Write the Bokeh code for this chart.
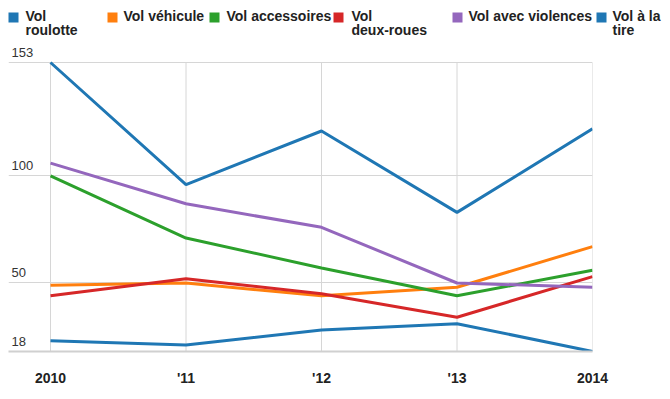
from bokeh.plotting import figure
from bokeh.models import Range1d, FixedTicker, Label
from bokeh.layouts import column
from bokeh.core.properties import value
from bokeh.embed import file_html
from bokeh.resources import INLINE

# ---- data ----
years = [2010, 2011, 2012, 2013, 2014]
year_labels = ["2010", "'11", "'12", "'13", "2014"]
y_ticks = [18, 50, 100, 153]

series_names = ["Vol\nroulotte", "Vol véhicule", "Vol accessoires",
                "Vol\ndeux-roues", "Vol avec violences", "Vol à la\ntire"]
series_colors = ["#1f77b4", "#ff7f0e", "#2ca02c", "#d62728", "#9467bd", "#1f77b4"]

vol_roulotte = [153, 96, 121, 83, 122]
vol_vehicule = [49, 50, 44, 48, 67]
vol_accessoires = [100, 71, 57, 44, 56]
vol_deux_roues = [44, 52, 45, 34, 53]
vol_violences = [106, 87, 76, 50, 48]
vol_tire = [23, 21, 28, 31, 18]

series_values = [vol_roulotte, vol_vehicule, vol_accessoires,
                 vol_deux_roues, vol_violences, vol_tire]

FONT = "Liberation Sans"
W = 668
GRID = "#d6d6d6"

# ---- legend strip ----
LEG_H = 44
leg = figure(width=W, height=LEG_H, x_range=Range1d(0, W), y_range=Range1d(LEG_H, 0),
             output_backend="svg", toolbar_location=None, min_border=0,
             x_axis_location=None, y_axis_location=None)
leg.frame_align = False
leg.outline_line_color = None
leg.grid.visible = False
sq_left = [8, 107, 209, 333, 452, 596]
txt_left = [25, 123, 226, 351, 468, 612]
leg.rect(x=[s + 5 for s in sq_left], y=[17] * 6, width=10, height=10,
         fill_color=series_colors, line_color=None)
leg.text(x=txt_left, y=[7] * 6, text=series_names, text_font=value(FONT),
         text_font_style="bold", text_font_size="14px", text_color="#222222",
         text_baseline="top", text_align="left", text_line_height=0.92)

# ---- main chart ----
px_per_year = 135.5
px_per_unit = 289 / (y_ticks[-1] - y_ticks[0])
y_top = y_ticks[-1] + 18 / px_per_unit
p = figure(width=W, height=351,
           x_range=Range1d(years[0] - 42 / px_per_year, years[-1]),
           y_range=Range1d(y_ticks[0], y_top),
           output_backend="svg", toolbar_location=None,
           min_border_left=8, min_border_right=W - 592, min_border_top=0, min_border_bottom=44,
           y_axis_location=None)
p.frame_align = False
p.outline_line_color = None

p.xaxis.ticker = FixedTicker(ticks=years)
p.xaxis.major_label_overrides = {y: l for y, l in zip(years, year_labels)}
p.xaxis.major_label_text_font = FONT
p.xaxis.major_label_text_font_style = "bold"
p.xaxis.major_label_text_font_size = "14px"
p.xaxis.major_label_text_color = "#222222"
p.xaxis.major_label_standoff = 12
p.xaxis.major_tick_line_color = None
p.xaxis.minor_tick_line_color = None
p.xaxis.axis_line_color = "#d0d0d0"
p.xaxis.axis_line_width = 2

p.xgrid.visible = False
p.ygrid.ticker = FixedTicker(ticks=y_ticks)
p.ygrid.grid_line_color = GRID

# vertical grid lines spanning only the value range
p.segment(x0=years, y0=[y_ticks[0]] * len(years), x1=years, y1=[y_ticks[-1]] * len(years),
          line_color=GRID, line_width=1)

for vals, col in zip(series_values, series_colors):
    p.line(years, vals, line_color=col, line_width=3)

for v in y_ticks:
    p.add_layout(Label(x=3, y=v, x_units="screen", y_units="data", text=str(v),
                       text_font=FONT, text_font_size="13px", text_color="#333333",
                       text_baseline="alphabetic", y_offset=10))

layout = column(leg, p, spacing=0)
open("out.html", "w").write(file_html(layout, INLINE))
